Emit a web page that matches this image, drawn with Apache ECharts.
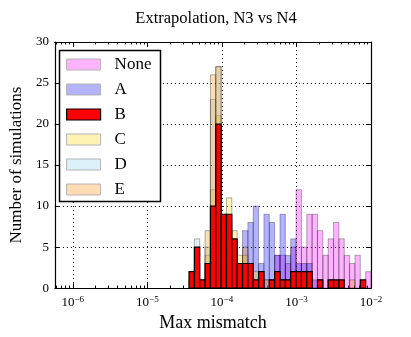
<!DOCTYPE html>
<html>
<head>
<meta charset="utf-8">
<script src="https://cdn.jsdelivr.net/npm/echarts@6/dist/echarts.min.js"></script>
<style>
  html, body { margin: 0; padding: 0; background: #fff; }
  #chart { width: 411px; height: 337px; }
</style>
</head>
<body>
<div id="chart"></div>
<script>
// histogram bins, log10(max mismatch)
const binStart = -4.441;
const binEnd = -2.0;
const binCount = 34;

const seriesNames = ['None', 'A', 'B', 'C', 'D', 'E'];

// counts per bin
const noneCounts = [0, 0, 0, 0, 0, 0, 0, 0, 0, 0, 0, 0, 0, 0, 1, 1, 4, 4, 3, 5, 12, 5, 9, 9, 7, 4, 6, 8, 6, 4, 3, 4, 0, 2];
const aCounts    = [0, 0, 0, 0, 2, 5, 3, 3, 1, 2, 7, 8, 10, 3, 9, 8, 4, 9, 4, 6, 3, 3, 3, 1, 1, 0, 0, 0, 0, 0, 0, 0, 0, 0];
const bCounts    = [2, 5, 1, 3, 10, 20, 9, 9, 6, 3, 3, 3, 1, 2, 0, 1, 2, 1, 1, 2, 2, 2, 2, 0, 1, 0, 1, 1, 1, 0, 0, 0, 1, 0];
const cCounts    = [0, 0, 0, 4, 12, 21, 8, 11, 7, 4, 4, 3, 2, 2, 1, 1, 2, 1, 1, 2, 2, 1, 1, 0, 1, 0, 1, 0, 0, 0, 0, 0, 0, 0];
const dCounts    = [1, 6, 1, 5, 23, 27, 8, 8, 5, 3, 2, 1, 0, 1, 0, 0, 1, 0, 0, 1, 0, 0, 1, 0, 0, 0, 1, 0, 0, 0, 0, 0, 0, 0];
const eCounts    = [0, 3, 0, 7, 26, 27, 7, 7, 5, 3, 5, 3, 0, 1, 0, 0, 1, 0, 0, 0, 1, 0, 0, 0, 0, 0, 0, 0, 0, 0, 1, 0, 0, 0];

const xTicks = [-6, -5, -4, -3, -2];
const yTicks = [0, 5, 10, 15, 20, 25, 30];

const colors = {
  None: 'rgba(255,0,255,0.3)',
  A: 'rgba(0,0,255,0.3)',
  B: '#ff0000',
  C: 'rgba(255,215,0,0.3)',
  D: 'rgba(135,206,235,0.3)',
  E: 'rgba(255,140,0,0.3)'
};
const legendSwatch = {
  None: '#ffb3ff', A: '#b3b3ff', B: '#ff0000', C: '#fff3b3', D: '#dbf0f9', E: '#ffdcb3'
};

const FONT = '"Liberation Serif", "DejaVu Serif", serif';
const binWidth = (binEnd - binStart) / binCount;

// minor ticks at 2..9 x 10^k
const minorTicks = [];
for (let k = -7; k <= -3; k++) {
  for (let m = 2; m <= 9; m++) {
    const v = k + Math.log10(m);
    if (v > -6.24 && v < -2) minorTicks.push(v);
  }
}

function decadeLabel(v) {
  const exp = String(Math.round(v)).replace('-', '\u2212');
  return '{b|10}{s|' + exp + '}';
}

function makeSeries(name, counts) {
  const fill = colors[name];
  const isB = name === 'B';
  return {
    name,
    type: 'custom',
    xAxisIndex: 0,
    yAxisIndex: 0,
    clip: true,
    itemStyle: { color: legendSwatch[name] },
    renderItem: function (params, api) {
      const i = api.value(0);
      const v = api.value(1);
      const p0 = api.coord([binStart + i * binWidth, 0]);
      const p1 = api.coord([binStart + (i + 1) * binWidth, v]);
      return {
        type: 'rect',
        shape: { x: p0[0], y: p1[1], width: p1[0] - p0[0], height: p0[1] - p1[1] },
        style: {
          fill: fill,
          stroke: isB ? '#000' : 'rgba(0,0,0,0.3)',
          lineWidth: isB ? 1.2 : 1
        }
      };
    },
    data: counts.map((c, i) => [i, c]).filter(d => d[1] > 0)
  };
}

const baseX = {
  type: 'value',
  min: -6.24,
  max: -2,
  gridIndex: 0
};
const baseY = {
  type: 'value',
  min: 0,
  max: 30,
  interval: 5,
  gridIndex: 0
};

const chart = echarts.init(document.getElementById('chart'), null, { renderer: 'canvas' });

chart.setOption({
  animation: false,
  backgroundColor: '#fff',
  title: {
    text: 'Extrapolation, N3 vs N4',
    left: 211,
    top: 5,
    textAlign: 'center',
    textStyle: { fontFamily: FONT, fontSize: 16.5, fontWeight: 'normal', color: '#000' }
  },
  grid: { left: 51, right: 40, top: 42, bottom: 42 },
  graphic: [{
    type: 'rect',
    z: 90,
    shape: { x: 59.5, y: 50.5, width: 101, height: 151 },
    style: { fill: '#fff', stroke: '#000', lineWidth: 1.5 }
  }],
  legend: {
    z: 100,
    orient: 'vertical',
    left: 66,
    top: 56,
    itemWidth: 34,
    itemHeight: 11,
    itemGap: 8,
    icon: 'rect',
    padding: 0,
    textStyle: { fontFamily: FONT, fontSize: 17, lineHeight: 15, color: '#000', padding: [0, 0, 0, 9] },
    data: seriesNames.map(n => ({
      name: n,
      itemStyle: {
        color: legendSwatch[n],
        borderColor: n === 'B' ? '#000' : '#b3b3b3',
        borderWidth: n === 'B' ? 1.2 : 1
      }
    }))
  },
  xAxis: [
    Object.assign({}, baseX, {
      position: 'bottom',
      name: 'Max mismatch',
      nameLocation: 'middle',
      nameGap: 22,
      nameTextStyle: { fontFamily: FONT, fontSize: 18, color: '#000' },
      axisLine: { show: true, lineStyle: { color: '#000', width: 1.2 } },
      axisTick: { show: true, inside: true, length: 5, customValues: xTicks, lineStyle: { color: '#000' } },
      axisLabel: {
        customValues: xTicks,
        margin: 7,
        formatter: decadeLabel,
        rich: {
          b: { fontFamily: FONT, fontSize: 13, color: '#000', lineHeight: 15 },
          s: { fontFamily: FONT, fontSize: 9, color: '#000', verticalAlign: 'top', lineHeight: 9 }
        }
      },
      splitLine: { show: true, lineStyle: { color: '#000', type: [1, 3], width: 1 } }
    }),
    Object.assign({}, baseX, {
      position: 'bottom',
      axisLine: { show: false },
      axisTick: { show: true, inside: true, length: 2.5, customValues: minorTicks, lineStyle: { color: '#000' } },
      axisLabel: { show: false },
      splitLine: { show: false }
    }),
    Object.assign({}, baseX, {
      position: 'top',
      axisLine: { show: true, lineStyle: { color: '#000', width: 1.2 } },
      axisTick: { show: true, inside: true, length: 5, customValues: xTicks, lineStyle: { color: '#000' } },
      axisLabel: { show: false },
      splitLine: { show: false }
    }),
    Object.assign({}, baseX, {
      position: 'top',
      axisLine: { show: false },
      axisTick: { show: true, inside: true, length: 2.5, customValues: minorTicks, lineStyle: { color: '#000' } },
      axisLabel: { show: false },
      splitLine: { show: false }
    })
  ],
  yAxis: [
    Object.assign({}, baseY, {
      position: 'left',
      name: 'Number of simulations',
      nameLocation: 'middle',
      nameGap: 18,
      nameTextStyle: { fontFamily: FONT, fontSize: 17, color: '#000' },
      axisLine: { show: true, lineStyle: { color: '#000', width: 1.2 } },
      axisTick: { show: true, inside: true, length: 5, lineStyle: { color: '#000' } },
      axisLabel: { fontFamily: FONT, fontSize: 13, color: '#000', margin: 6,
        customValues: yTicks },
      splitLine: { show: true, lineStyle: { color: '#000', type: [1, 3], width: 1 } }
    }),
    Object.assign({}, baseY, {
      position: 'right',
      axisLine: { show: true, lineStyle: { color: '#000', width: 1.2 } },
      axisTick: { show: true, inside: true, length: 5, lineStyle: { color: '#000' } },
      axisLabel: { show: false },
      splitLine: { show: false }
    })
  ],
  series: [
    makeSeries('None', noneCounts),
    makeSeries('A', aCounts),
    makeSeries('C', cCounts),
    makeSeries('D', dCounts),
    makeSeries('E', eCounts),
    makeSeries('B', bCounts)
  ]
});
</script>
</body>
</html>
